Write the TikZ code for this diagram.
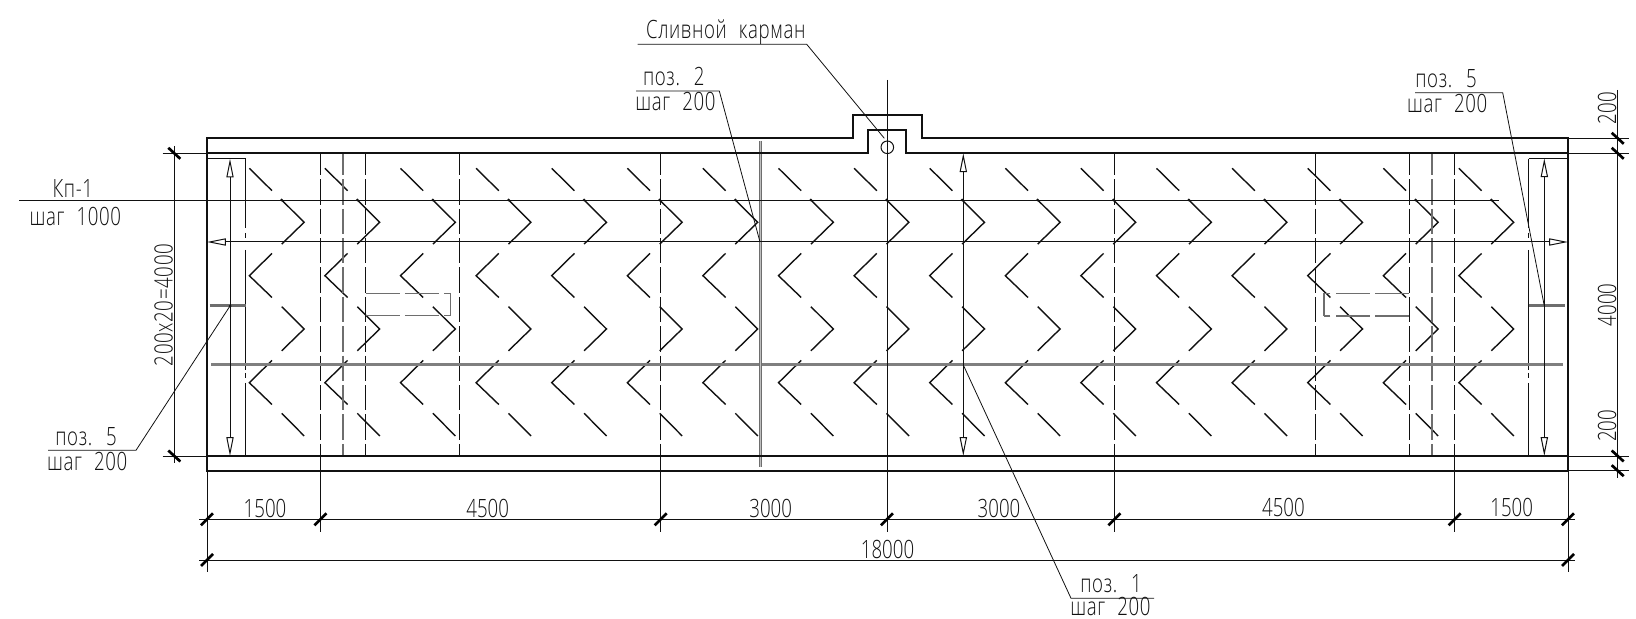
\documentclass[tikz,border=0pt]{standalone}
\usepackage{fontspec}
\usetikzlibrary{arrows.meta}
\newfontfamily\cadfont[FakeStretch=0.74]{Open Sans Light}
\newfontfamily\notefont[FakeStretch=0.74,WordSpace=2.2,LetterSpace=2.5]{Open Sans Light}
\definecolor{DarkLine}{HTML}{111111}
\definecolor{MidGray}{HTML}{6E6E6E}
\definecolor{BarGray}{HTML}{7F7F7F}
\tikzset{
  frameline/.style={line width=1.05pt,DarkLine},
  thinline/.style={line width=0.5pt,DarkLine},
  leaderline/.style={line width=0.4pt,DarkLine},
  hatchline/.style={line width=0.7pt,DarkLine},
  tickline/.style={line width=1.35pt,black},
  dashline/.style={line width=0.55pt,DarkLine,dash pattern=on 12.7pt off 2pt,dash phase=1.7pt},
  grayline/.style={line width=1pt,MidGray,dash pattern=on 12.7pt off 2pt,dash phase=1.7pt},
  boxline/.style={line width=0.6pt,MidGray,dash pattern=on 17pt off 2.6pt},
  rebar/.style={line width=1.5pt,BarGray},
  twinbar/.style={line width=1.5pt,MidGray},
  twinfill/.style={line width=0.4pt,white!55!MidGray},
  dimarrow/.style={line width=0.5pt,DarkLine,{Triangle[open,length=9.4pt,width=3.6pt]}-{Triangle[open,length=9.4pt,width=3.6pt]}},
  note/.style={anchor=base west,inner sep=0pt,font=\notefont\fontsize{12.6}{14}\selectfont,text=DarkLine},
  dimtext/.style={anchor=base west,inner sep=0pt,font=\cadfont\fontsize{12.6}{14}\selectfont,text=DarkLine},
  upnote/.style={anchor=base,rotate=90,inner sep=0pt,font=\cadfont\fontsize{12.6}{14}\selectfont,text=DarkLine}
}
\begin{document}
\begin{tikzpicture}[x=0.5pt,y=-0.5pt]
  \useasboundingbox (0,0) rectangle (1636,619);

  \coordinate (PocketHole) at (887.3,147.3);
  \coordinate (AxisTop)    at (887,80);

  \foreach \x in {0,1,...,16}{%
    \draw[hatchline] ({249.3+75.6*\x},168.3) -- ++(22.7,22.4);
    \draw[hatchline] ({281.7+75.6*\x},413.3) -- ++(22.5,22.7);
    \foreach \y in {200,306.7}{%
      \draw[hatchline] ({281.7+75.6*\x},\y) -- ++(22.4,22.3) -- ++(-22.4,21.8);
    }
    \foreach \y in {275.7,382.7}{%
      \draw[hatchline] ({272+75.6*\x},\y-22.3) -- ++(-22.7,22.3) -- ++(22.7,21.8);
    }
    \fill[DarkLine] ({281.7+75.6*\x},200) circle [radius=1.5];
  }

  \foreach \x in {320.4,365.7,459.3,660.6,1114.4,1315.7,1409.3,1454.6}{%
    \draw[dashline] (\x,153.3) -- (\x,456);
  }
  \foreach \x in {343,1432}{%
    \draw[grayline] (\x,153.3) -- (\x,456);
  }
  \foreach \x/\y/\z in {245.7/158.7/228.5,245.7/233/238,245.7/250/370,245.7/373/378,245.7/383/456,1528.7/158.7/228.5,1528.7/233/238,1528.7/250/370,1528.7/373/378,1528.7/383/456}{%
    \draw[thinline] (\x,\y) -- (\x,\z);
  }
  \draw[thinline] (207,158.7) -- (245.7,158.7);
  \draw[thinline] (1528.7,158.3) -- (1568,158.3);

  \draw[boxline] (365.7,293.3) -- (450.7,293.3);
  \draw[boxline] (365.7,315.7) -- (450.7,315.7);
  \draw[line width=0.6pt,MidGray] (450.7,293) -- (450.7,316);
  \draw[boxline] (1408.7,293.3) -- (1324,293.3);
  \draw[boxline] (1408.7,316) -- (1324,316);
  \draw[line width=0.6pt,MidGray] (1324,293) -- (1324,316.3);

  \draw[rebar] (211,365) -- (1562.7,365);
  \foreach \x/\y/\z in {209.5/245.7/306,1528.7/1565/306}{%
    \draw[twinbar] (\x,\z) -- (\y,\z);
  }
  \draw[twinbar] (760.3,141) -- (760.3,467);
  \draw[twinfill] (760.3,141) -- (760.3,467);

  \draw[thinline] (19,200.3) -- (1499.3,200.3);
  \draw[dimarrow] (207,242) -- (1568,242);
  \draw[dimarrow] (230,158.7) -- (230,456);
  \draw[dimarrow] (1544.3,158.3) -- (1544.3,456);
  \draw[dimarrow] (963.3,153.3) -- (963.3,456);

  \draw[frameline] (207,138.3) -- (853.3,138.3) -- (853.3,115) -- (921.7,115)
    -- (921.7,138.3) -- (1568,138.3) -- (1568,470.7) -- (207,470.7) -- cycle;
  \draw[frameline] (207,153.3) -- (868.3,153.3) -- (868.3,130) -- (906,130)
    -- (906,153.3) -- (1568,153.3);
  \draw[frameline] (207,456) -- (1568,456);
  \draw[line width=0.5pt,DarkLine] (PocketHole) circle [radius=6.3];

  \draw[thinline] (AxisTop) -- (887,531.7);
  \foreach \x in {320.4,660.6,1114.4,1454.6}{%
    \draw[line width=0.8pt,DarkLine] (\x,456) -- (\x,531.7);
  }
  \draw[thinline] (207,470.7) -- (207,571.7);
  \draw[thinline] (1568,470.7) -- (1568,571.7);
  \draw[thinline] (199.3,519.3) -- (1575,519.3);
  \draw[thinline] (199.3,560) -- (1575,560);
  \foreach \x in {207,320.4,660.6,887,1114.4,1454.6,1568}{%
    \draw[tickline] (\x-6,525.3) -- (\x+6,513.3);
  }
  \foreach \x in {207,1568}{%
    \draw[tickline] (\x-6,566) -- (\x+6,554);
  }

  \draw[thinline] (174.3,146) -- (174.3,462.7);
  \draw[thinline] (162.7,153.3) -- (207,153.3);
  \draw[thinline] (162.7,456) -- (207,456);
  \foreach \y in {153.3,456}{%
    \draw[tickline] (168.3,\y-5.5) -- (180.3,\y+5.5);
  }
  \draw[thinline] (1617.7,90) -- (1617.7,477.7);
  \foreach \y in {138.3,153.3,456,470.7}{%
    \draw[thinline] (1568,\y) -- (1629.3,\y);
    \draw[tickline] (1611.7,\y-5.5) -- (1623.7,\y+5.5);
  }

  \node[note] (PocketText) at (645.7,38.3) {Сливной карман};
  \coordinate (PocketStart) at (637.7,44.3);
  \coordinate (PocketKnee)  at (806.7,44.3);
  \coordinate (PocketEnd)   at (884.3,138.3);
  \draw[leaderline] (PocketStart) -- (PocketKnee) -- (PocketEnd);

  \node[note] (PosTwo) at (642.7,86) {поз. 2};
  \node[note] (PosTwoStep) at (635,110.7) {шаг 200};
  \coordinate (PosTwoStart) at (636,91);
  \coordinate (PosTwoKnee)  at (719.3,91);
  \coordinate (PosTwoEnd)   at (760,242);
  \draw[leaderline] (PosTwoStart) -- (PosTwoKnee) -- (PosTwoEnd);

  \node[note] (PosFiveR) at (1415,87.7) {поз. 5};
  \node[note] (PosFiveRStep) at (1406.7,112.7) {шаг 200};
  \coordinate (PosFiveRStart) at (1415,92.7);
  \coordinate (PosFiveRKnee)  at (1502.7,92.7);
  \coordinate (PosFiveREnd)   at (1544.3,306);
  \draw[leaderline] (PosFiveRStart) -- (PosFiveRKnee) -- (PosFiveREnd);

  \node[note] (PosFiveL) at (55,445) {поз. 5};
  \node[note] (PosFiveLStep) at (46.7,470) {шаг 200};
  \coordinate (PosFiveLStart) at (48,450.3);
  \coordinate (PosFiveLKnee)  at (136,450.3);
  \coordinate (PosFiveLEnd)   at (230,306);
  \draw[leaderline] (PosFiveLStart) -- (PosFiveLKnee) -- (PosFiveLEnd);
  \fill[DarkLine] (PosFiveLEnd) circle [radius=1.5];

  \node[note] (PosOne) at (1080,592.7) {поз. 1};
  \node[note] (PosOneStep) at (1070,615.5) {шаг 200};
  \coordinate (PosOneStart) at (1154,598.3);
  \coordinate (PosOneKnee)  at (1071,598.3);
  \coordinate (PosOneEnd)   at (963.3,365);
  \draw[leaderline] (PosOneStart) -- (PosOneKnee) -- (PosOneEnd);

  \node[note] (FrameMark) at (52.3,197.3) {Кп-1};
  \node[note] (FrameStep) at (29.3,225.7) {шаг 1000};

  \node[dimtext] (DimA) at (243.3,517.3) {1500};
  \node[dimtext] (DimB) at (466,517.3) {4500};
  \node[dimtext] (DimC) at (749,517.3) {3000};
  \node[dimtext] (DimD) at (977.3,517.3) {3000};
  \node[dimtext] (DimE) at (1261.7,516.7) {4500};
  \node[dimtext] (DimF) at (1490,516) {1500};
  \node[dimtext] (DimAll) at (860.5,558) {18000};

  \node[upnote,font=\notefont\fontsize{12.6}{14}\selectfont] (DimSpacing) at (172.7,305) {200х20=4000};
  \node[upnote] (DimTop) at (1616,108.3) {200};
  \node[upnote] (DimMid) at (1616,305) {4000};
  \node[upnote] (DimBottom) at (1616,425.7) {200};
\end{tikzpicture}
\end{document}
